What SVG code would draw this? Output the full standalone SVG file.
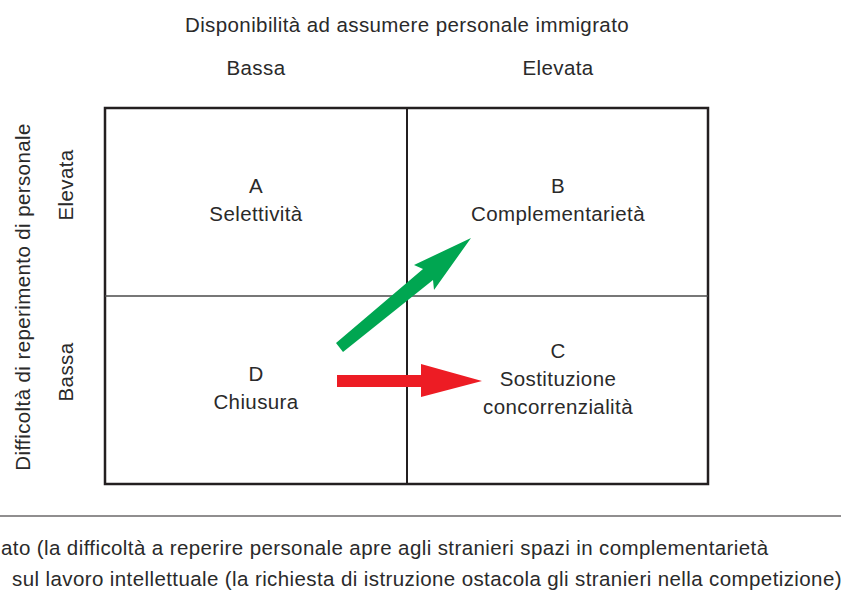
<svg xmlns="http://www.w3.org/2000/svg" width="841" height="608" viewBox="0 0 841 608">
<style>
text{font-family:"Liberation Sans",Arial,sans-serif;fill:#2a2a2a;font-size:20.5px;letter-spacing:0.4px}
.m{text-anchor:middle}
.frame{fill:none;stroke:#231f20;stroke-width:2.5}
.div{stroke:#231f20;stroke-width:2}
.hdiv{stroke:#4a4a4a;stroke-width:1.5}
</style>
<rect width="841" height="608" fill="#fff"/>
<text class="m" x="407" y="32">Disponibilità ad assumere personale immigrato</text>
<text class="m" x="256" y="75">Bassa</text>
<text class="m" x="558" y="75">Elevata</text>
<text class="m" transform="translate(30,297) rotate(-90)">Difficoltà di reperimento di personale</text>
<text class="m" transform="translate(73,185) rotate(-90)">Elevata</text>
<text class="m" transform="translate(73,372) rotate(-90)">Bassa</text>
<g id="grid">
<rect class="frame" x="105" y="108" width="603" height="376"/>
<line class="div" x1="407" y1="108" x2="407" y2="484"/>
<line class="hdiv" x1="105" y1="296" x2="708" y2="296"/>
</g>
<g id="A"><text class="m" x="256" y="193">A</text><text class="m" x="256" y="221">Selettività</text></g>
<g id="B"><text class="m" x="558" y="193">B</text><text class="m" x="558" y="221">Complementarietà</text></g>
<g id="C"><text class="m" x="558" y="358">C</text><text class="m" x="558" y="386">Sostituzione</text><text class="m" x="558" y="414">concorrenzialità</text></g>
<g id="D"><text class="m" x="256" y="381">D</text><text class="m" x="256" y="409">Chiusura</text></g>
<g id="connectors">
<polygon fill="#00a651" points="336,343 423,269 414,265 471,238 434,290 433,280 343,352"/>
<polygon fill="#ed1c24" points="337,375 421,375 421,364 482,381 421,397 421,387 337,387"/>
</g>
<line x1="0" y1="516" x2="841" y2="516" stroke="#231f20" stroke-width="1.2"/>
<text x="1" y="555">ato (la difficoltà a reperire personale apre agli stranieri spazi in complementarietà</text>
<text x="12" y="586">sul lavoro intellettuale (la richiesta di istruzione ostacola gli stranieri nella competizione)</text>
</svg>
